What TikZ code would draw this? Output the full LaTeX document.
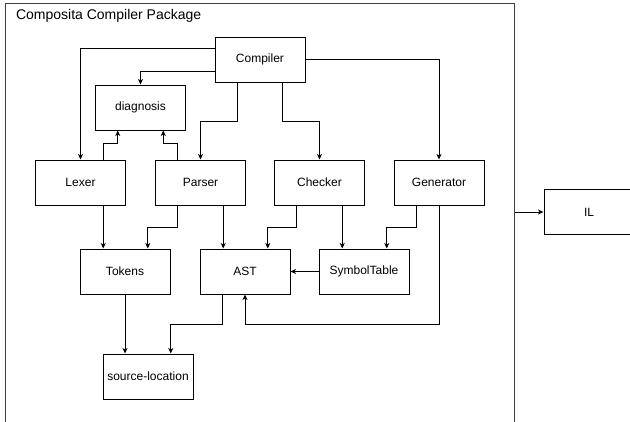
\documentclass[tikz,border=0pt]{standalone}
\usepackage{fontspec}
\setmainfont{Liberation Sans}
\usetikzlibrary{calc,arrows.meta}
\begin{document}
\begin{tikzpicture}[x=1pt,y=-1pt,
  box/.style={draw=black,line width=1pt,minimum width=90pt,minimum height=45pt,inner sep=0pt,font=\fontsize{12}{14}\selectfont},
  frame/.style={draw=black!75,line width=1pt,minimum width=509pt,minimum height=437pt,inner sep=0pt},
  arr/.style={draw=black,line width=0.9pt,-{Stealth[length=5.5pt,width=5pt,inset=1.5pt]}}]
\clip (0,0) rectangle (630,421);
\fill[white] (0,0) rectangle (630,421);
\node[frame] (pkg) at (259.5,221.5) {};
\node[anchor=base west,font=\fontsize{14}{16}\selectfont] (title) at (12.5,19) {Composita Compiler Package};
\node[box] (compiler) at (260,59.5) {Compiler};
\node[box] (diag) at (140.5,107.5) {diagnosis};
\node[box] (lexer) at (80.5,182.5) {Lexer};
\node[box] (parser) at (200.5,182.5) {Parser};
\node[box] (checker) at (319.5,182.5) {Checker};
\node[box] (gen) at (439,182.5) {Generator};
\node[box] (tokens) at (125,271.5) {Tokens};
\node[box] (ast) at (245,271.5) {AST};
\node[box] (symtab) at (364,271.5) {SymbolTable};
\node[box] (srcloc) at (148,376.5) {source-location};
\node[box] (il) at (589,212) {IL};
% connectors
\draw[arr] ($(compiler.north west)!0.25!(compiler.south west)$) -| (lexer.north);
\draw[arr] ($(compiler.north west)!0.75!(compiler.south west)$) -| (diag.north);
\draw[arr] ($(compiler.south west)!0.25!(compiler.south east)$) -- ++(0,39) -| (parser.north);
\draw[arr] ($(compiler.south west)!0.75!(compiler.south east)$) -- ++(0,39) -| (checker.north);
\draw[arr] (compiler.east) -| (gen.north);
\draw[arr] ($(lexer.north west)!0.75!(lexer.north east)$) -- ++(0,-16) -| ($(diag.south west)!0.25!(diag.south east)$);
\draw[arr] ($(parser.north west)!0.25!(parser.north east)$) -- ++(0,-16) -| ($(diag.south west)!0.75!(diag.south east)$);
\coordinate (lx) at ($(lexer.south west)!0.75!(lexer.south east)$);
\draw[arr] (lx) -- (lx |- tokens.north);
\draw[arr] ($(parser.south west)!0.25!(parser.south east)$) -- ++(0,22) -| ($(tokens.north west)!0.75!(tokens.north east)$);
\coordinate (px) at ($(parser.south west)!0.75!(parser.south east)$);
\draw[arr] (px) -- (px |- ast.north);
\draw[arr] ($(checker.south west)!0.25!(checker.south east)$) -- ++(0,22) -| ($(ast.north west)!0.75!(ast.north east)$);
\coordinate (cx) at ($(checker.south west)!0.75!(checker.south east)$);
\draw[arr] (cx) -- (cx |- symtab.north);
\draw[arr] ($(gen.south west)!0.25!(gen.south east)$) -- ++(0,22) -| ($(symtab.north west)!0.75!(symtab.north east)$);
\draw[arr] (gen.south) -- ++(0,119) -| (ast.south);
\draw[arr] (symtab.west) -- (ast.east);
\draw[arr] (tokens.south) -- (tokens.south |- srcloc.north);
\draw[arr] ($(ast.south west)!0.25!(ast.south east)$) -- ++(0,30) -| ($(srcloc.north west)!0.75!(srcloc.north east)$);
\draw[arr] (pkg.east |- il.west) -- (il.west);
\end{tikzpicture}
\end{document}
